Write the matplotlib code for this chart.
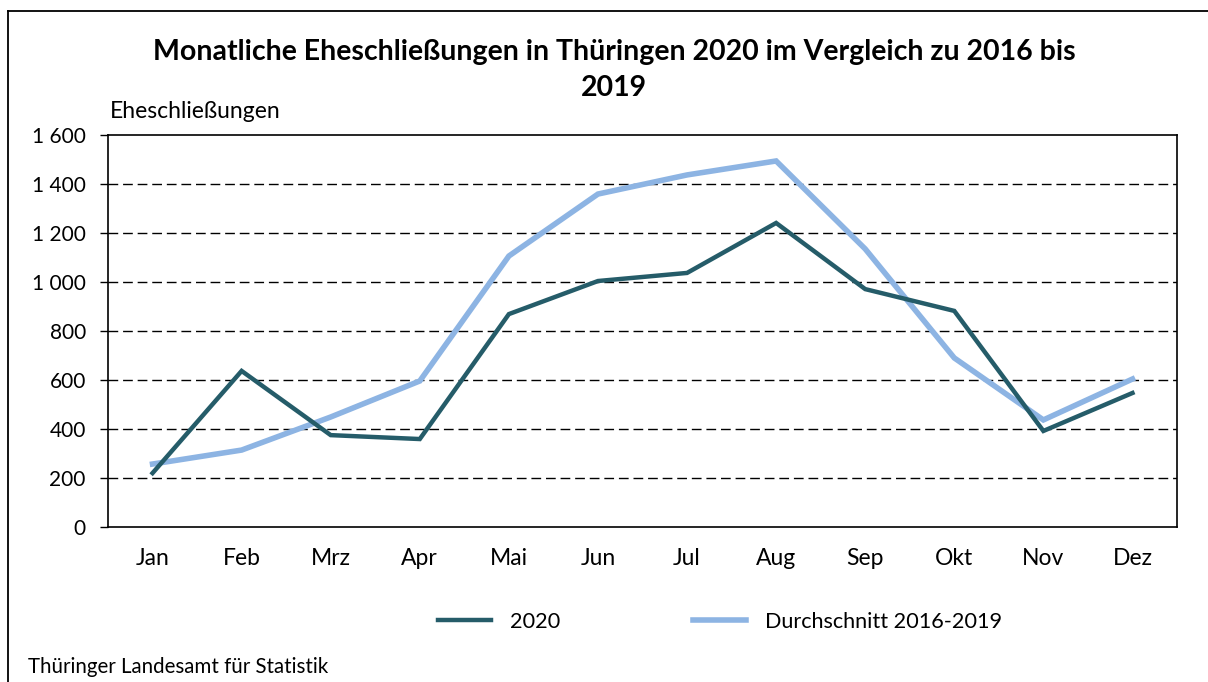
import numpy as np
import matplotlib.pyplot as plt
from matplotlib.lines import Line2D

plt.rcParams['font.family'] = ['Lato', 'DejaVu Sans']

monate = ['Jan', 'Feb', 'Mrz', 'Apr', 'Mai', 'Jun', 'Jul', 'Aug', 'Sep', 'Okt', 'Nov', 'Dez']
werte_2020 = [220, 637, 375, 359, 869, 1004, 1037, 1241, 971, 882, 392, 547]
durchschnitt = [257, 314, 449, 596, 1106, 1359, 1437, 1494, 1135, 690, 437, 604]
y_ticks = [0, 200, 400, 600, 800, 1000, 1200, 1400, 1600]

W, H = 1208, 682
fig = plt.figure(figsize=(W / 100, H / 100), dpi=100)
ax = fig.add_axes([108 / W, 1 - 527 / H, (1177 - 108) / W, (527 - 135) / H])

x = np.arange(len(monate))
ax.plot(x, werte_2020, color='#255c69', lw=3.2, solid_joinstyle='miter', zorder=3, label='2020')
ax.plot(x, durchschnitt, color='#8db4e3', lw=4.0, solid_joinstyle='miter', zorder=2,
        label='Durchschnitt 2016-2019')

ax.set_xlim(-0.5, len(monate) - 0.5)
ax.set_ylim(0, 1600)
ax.set_yticks(y_ticks)
ax.set_yticklabels([f'{v:,}'.replace(',', ' ') for v in y_ticks])
ax.set_xticks(x)
ax.set_xticklabels(monate)
ax.tick_params(axis='y', length=6, width=1, labelsize=15, pad=10)
ax.tick_params(axis='x', length=0, labelsize=16.5, pad=15)
for v in y_ticks[1:-1]:
    ax.axhline(v, color='black', lw=1, ls=(0, (7, 3.5)), zorder=1)
for s in ax.spines.values():
    s.set_linewidth(1.2)

# Titel und Texte
fig.text(614 / W, 1 - 52 / H, 'Monatliche Eheschließungen in Thüringen 2020 im Vergleich zu 2016 bis',
         ha='center', va='center', fontsize=20.5, fontweight='bold')
fig.text(614 / W, 1 - 88 / H, '2019', ha='center', va='center', fontsize=20.5, fontweight='bold')
fig.text(110 / W, 1 - 112 / H, 'Eheschließungen', ha='left', va='center', fontsize=16.5)
fig.text(28 / W, 1 - 667 / H, 'Thüringer Landesamt für Statistik', ha='left', va='center', fontsize=14.8)

# Rahmen
fig.add_artist(Line2D([8 / W, 8 / W], [0, 1 - 11 / H], color='black', lw=1.3))
fig.add_artist(Line2D([8 / W, 1], [1 - 11 / H, 1 - 11 / H], color='black', lw=1.3))

fig.legend(loc='center', bbox_to_anchor=(720 / W, 1 - 622 / H), ncol=2, frameon=False,
           fontsize=15.6, handlelength=2.45, columnspacing=6.1, handletextpad=0.9)

fig.savefig('out.png', dpi=100)
